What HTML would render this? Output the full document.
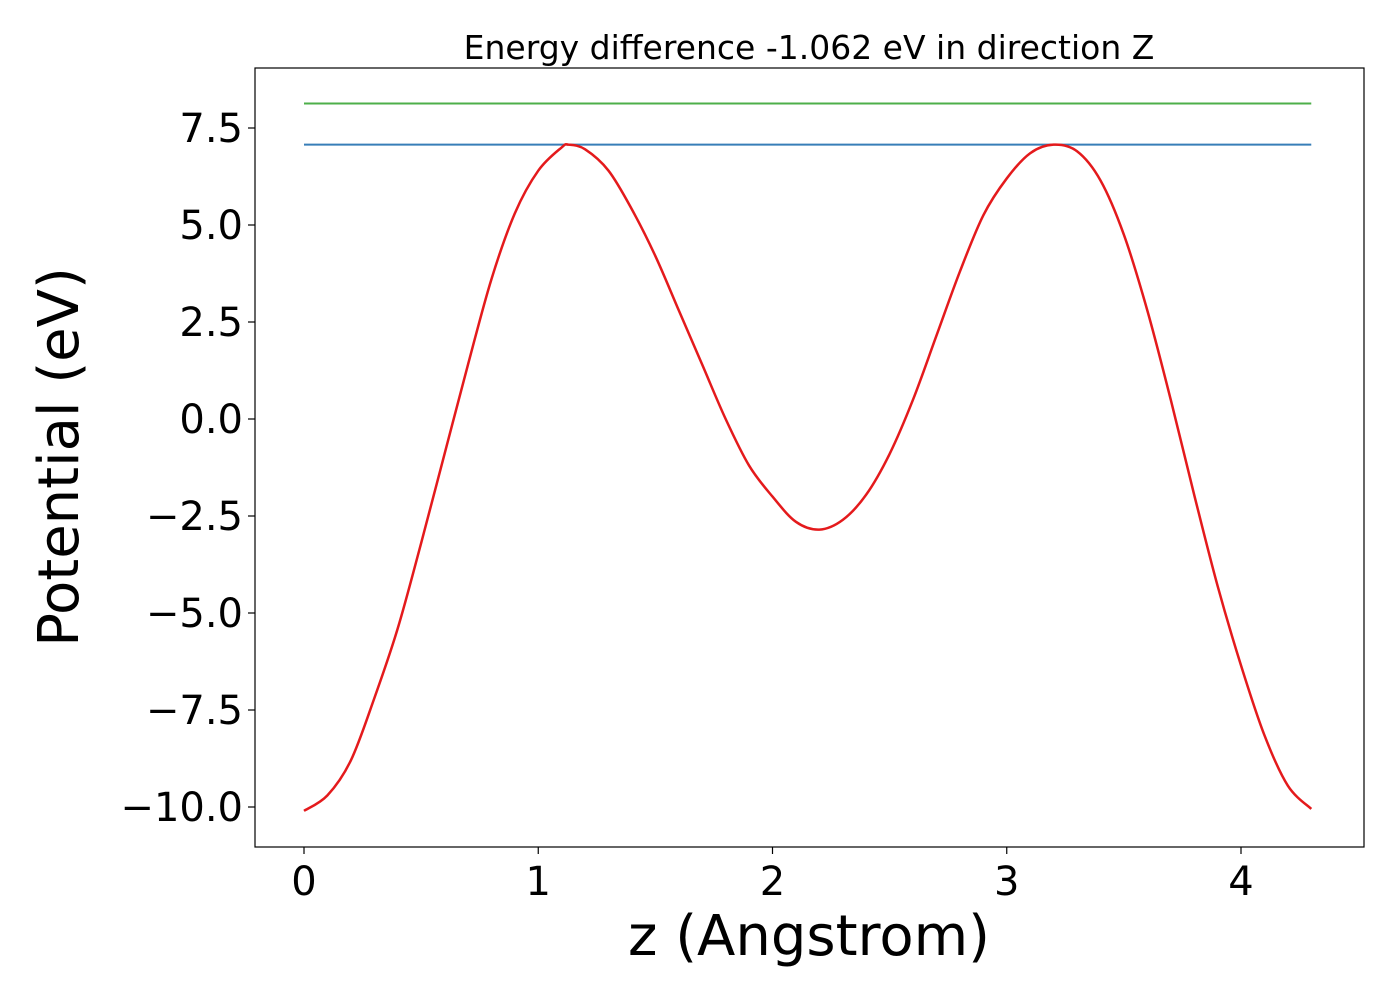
<!DOCTYPE html>
<html><head><meta charset="utf-8"><style>
body{margin:0;background:#fff;}
svg text{font-family:"DejaVu Sans","Liberation Sans",sans-serif;fill:#000;}
</style></head><body>
<svg id="chart" width="1400" height="1000" viewBox="0 0 1400 1000" xmlns="http://www.w3.org/2000/svg">
<rect width="1400" height="1000" fill="#fff"/>
<text x="809" y="59" font-size="33" text-anchor="middle">Energy difference -1.062 eV in direction Z</text>
<g id="plot"></g>
<rect x="255" y="68" width="1109" height="779" fill="none" stroke="#000" stroke-width="1.2"/>
<text x="809" y="955" font-size="56" text-anchor="middle">z (Angstrom)</text>
<text transform="translate(78,457) rotate(-90)" font-size="56" text-anchor="middle">Potential (eV)</text>
</svg>
<script>
const zValues=[0,0.1,0.2,0.3,0.4,0.5,0.6,0.7,0.8,0.9,1.0,1.1,1.13,1.2,1.3,1.4,1.5,1.6,1.7,1.8,1.9,2.0,2.1,2.2,2.3,2.4,2.5,2.6,2.7,2.8,2.9,3.0,3.1,3.2,3.3,3.4,3.5,3.6,3.7,3.8,3.9,4.0,4.1,4.2,4.3];
const potential=[-10.1,-9.7,-8.8,-7.2,-5.4,-3.2,-0.9,1.4,3.6,5.3,6.4,7.0,7.07,6.95,6.4,5.4,4.2,2.8,1.4,0.0,-1.2,-2.0,-2.65,-2.85,-2.6,-1.95,-0.9,0.5,2.15,3.8,5.25,6.2,6.85,7.07,6.9,6.15,4.75,2.8,0.5,-1.95,-4.3,-6.35,-8.15,-9.45,-10.05];
const levelValues=[7.07,8.13];
const levelColors=['#377eb8','#4daf4a'];
const xTicks=[0,1,2,3,4];
const xTickLabels=['0','1','2','3','4'];
const yTicks=[7.5,5.0,2.5,0.0,-2.5,-5.0,-7.5,-10.0];
const yTickLabels=['7.5','5.0','2.5','0.0','\u22122.5','\u22125.0','\u22127.5','\u221210.0'];

const NS='http://www.w3.org/2000/svg';
const g=document.getElementById('plot');
const xs=v=>304+v*234.25;
const ys=v=>419-v*38.8;
function mk(tag,attrs){const e=document.createElementNS(NS,tag);for(const k in attrs)e.setAttribute(k,attrs[k]);g.appendChild(e);return e;}

xTicks.forEach((t,i)=>{
  const l=mk('line',{x1:xs(t),x2:xs(t),y1:847,y2:854,stroke:'#000','stroke-width':1.2});
  
  
  const tx=mk('text',{x:xs(t),y:895,'font-size':40,'text-anchor':'middle'});
  tx.textContent=xTickLabels[i];
  
  
});
yTicks.forEach((t,i)=>{
  const l=mk('line',{x1:248,x2:255,y1:ys(t),y2:ys(t),stroke:'#000','stroke-width':1.2});
  
  
  const tx=mk('text',{x:243,y:ys(t)+14,'font-size':40,'text-anchor':'end'});
  tx.textContent=yTickLabels[i];
  
  
});
levelValues.forEach((v,i)=>{
  const l=mk('line',{x1:xs(zValues[0]),x2:xs(zValues[zValues.length-1]),y1:ys(v),y2:ys(v),stroke:levelColors[i],'stroke-width':2});
  
  
});
const P=zValues.map((z,i)=>[xs(z),ys(potential[i])]);
let d='M'+P[0][0]+','+P[0][1];
for(let i=0;i<P.length-1;i++){
  const p0=P[Math.max(i-1,0)],p1=P[i],p2=P[i+1],p3=P[Math.min(i+2,P.length-1)];
  const c1=[p1[0]+(p2[0]-p0[0])/6,p1[1]+(p2[1]-p0[1])/6];
  const c2=[p2[0]-(p3[0]-p1[0])/6,p2[1]-(p3[1]-p1[1])/6];
  d+=' C'+c1[0]+','+c1[1]+' '+c2[0]+','+c2[1]+' '+p2[0]+','+p2[1];
}
const c=mk('path',{d:d,fill:'none',stroke:'#e41a1c','stroke-width':2.5});


</script>
</body></html>
